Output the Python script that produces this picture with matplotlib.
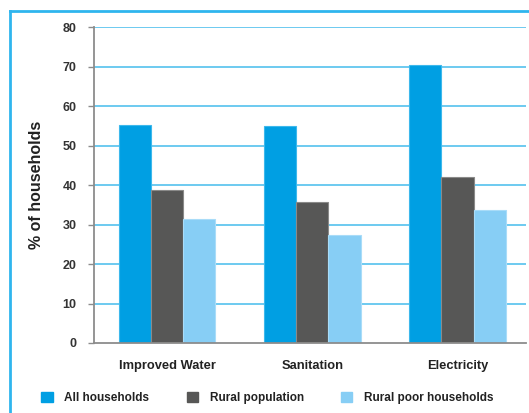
import matplotlib
matplotlib.use("Agg")
import matplotlib.pyplot as plt
import numpy as np
from matplotlib.lines import Line2D
from matplotlib.patches import Patch

plt.rcParams['font.family'] = ['Liberation Sans', 'DejaVu Sans']
plt.rcParams['font.weight'] = 'bold'

categories = ["Improved Water", "Sanitation", "Electricity"]
series_names = ["All households", "Rural population", "Rural poor households"]
all_households = [55.2, 54.9, 70.5]
rural_population = [38.7, 35.7, 42.0]
rural_poor = [31.5, 27.3, 33.8]
y_ticks = [0, 10, 20, 30, 40, 50, 60, 70, 80]

colors = ["#009FE3", "#575756", "#87CEF5"]
edges = ["#3DB8EC", "#8A8A89", "#A9DCF8"]

fig = plt.figure(figsize=(5.29, 4.13), dpi=100)
ax = fig.add_axes([0.1777, 0.1695, 0.8166, 0.765])

x = np.arange(len(categories))
w = 0.222
for i, vals in enumerate([all_households, rural_population, rural_poor]):
    ax.bar(x + (i - 1) * w, vals, width=w, color=colors[i], edgecolor=edges[i],
           linewidth=0.8, zorder=3, label=series_names[i])

for t in y_ticks[1:]:
    ax.axhline(t, color="#45BCEC", linewidth=1.1, zorder=1)

ax.set_xlim(-0.504, 2.472)
ax.set_ylim(0, 80)
ax.set_yticks(y_ticks)
ax.set_xticks(x)
ax.set_xticklabels(categories, fontsize=9.3, fontweight='bold', color="#222222")
ax.tick_params(axis='x', length=0, pad=12.5)
ax.tick_params(axis='y', length=4, width=1, color="#8C8C8C", pad=8.5,
               labelsize=9, labelcolor="#333333")
for lab in ax.get_yticklabels():
    lab.set_fontweight('bold')

for s in ['top', 'right']:
    ax.spines[s].set_visible(False)
for s in ['left', 'bottom']:
    ax.spines[s].set_color("#8C8C8C")
    ax.spines[s].set_linewidth(1.3)
ax.spines['left'].set_zorder(4)
ax.spines['bottom'].set_zorder(4)

ax.set_ylabel("% of households", fontsize=11.5, fontweight='bold', color="#222222",
              labelpad=13)

handles = [Patch(facecolor=c, edgecolor=c) for c in colors]
fig.legend(handles, series_names, loc='center left', bbox_to_anchor=(0.058, 0.037),
           ncol=3, frameon=False, handlelength=0.95, handleheight=0.95,
           handletextpad=1.0, columnspacing=3.15, labelcolor="#222222",
           prop={'weight': 'bold', 'size': 8.5})

# outer frame (left and top edges visible)
fig.add_artist(Line2D([0.019, 0.019], [0.0, 0.973], color="#2FB5EE", linewidth=2))
fig.add_artist(Line2D([0.019, 1.0], [0.973, 0.973], color="#2FB5EE", linewidth=2))

fig.savefig("out.png", dpi=100)
